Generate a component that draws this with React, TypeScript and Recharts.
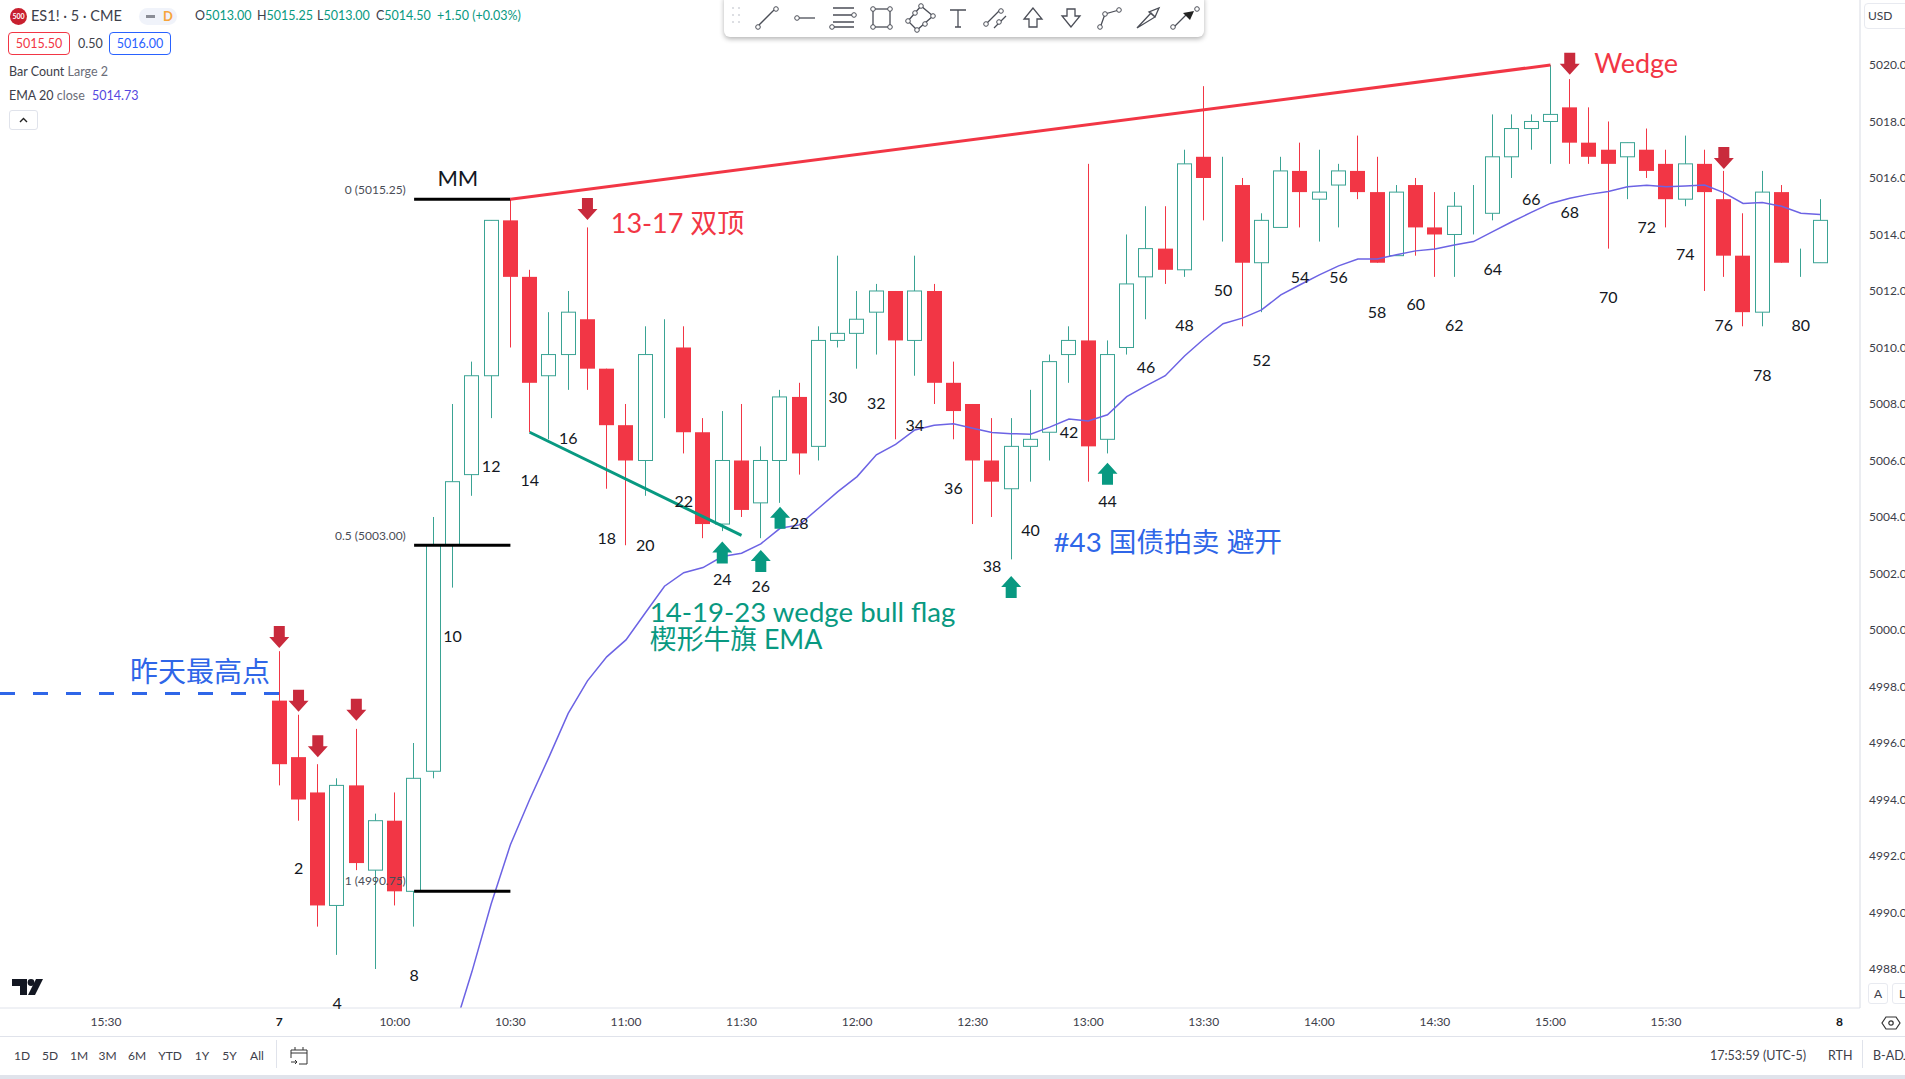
import React from "react";
import { ComposedChart, Bar, Line, XAxis, YAxis, ReferenceLine, ReferenceDot } from "recharts";

const barNumbers: number[] = Array.from({ length: 81 }, (_, i) => i + 1);
const opens = [4997.5,4995.5,4994.25,4990.25,4994.5,4991.5,4993.25,4990.75,4995,5003,5005.5,5009,5014.5,5012.5,5009,5009.75,5011,5009.25,5007.25,5006,5010,5010,5007,5003.75,5006,5004.5,5006,5008.25,5006.5,5010.25,5010.5,5011.25,5012,5010.25,5012,5008.75,5008,5006,5005,5006.5,5007,5009.75,5010.25,5006.75,5010,5012.5,5013.5,5012.75,5016.75,5016,5015.75,5013,5014.25,5016.25,5015.25,5015.75,5016.25,5015.5,5013.25,5015.75,5014.25,5014,5015,5014.75,5016.75,5017.75,5018,5018.5,5017.25,5017,5016.75,5017,5016.5,5015.25,5016.5,5015.25,5013.25,5011.25,5015.5,5013,5013];
const closes = [4995.25,4994,4990.25,4994.5,4991.75,4993.25,4990.75,4994.75,5003,5005.25,5009,5014.5,5012.5,5008.75,5009.75,5011.25,5009.25,5007.25,5006,5009.75,5010,5007,5003.75,5006,5004.25,5006,5008.25,5006.25,5010.25,5010.5,5011,5012,5010.25,5012,5008.75,5007.75,5006,5005.25,5006.5,5006.75,5009.5,5010.25,5006.5,5009.75,5012.25,5013.5,5012.75,5016.5,5016,5016,5013,5014.5,5016.25,5015.5,5015.5,5016.25,5015.5,5013,5015.5,5014.25,5014,5015,5015,5016.75,5017.75,5018,5018.25,5017.25,5016.75,5016.5,5017.25,5016.25,5015.25,5016.5,5015.5,5013.25,5011.25,5015.5,5013,5013,5014.5];
const highs = [4999.25,4997,4995.25,4994.75,4996.5,4993.5,4994.25,4996,5004,5008,5009.5,5014.5,5015.25,5012.75,5011.25,5012,5014.25,5009.25,5008,5010.75,5011,5010.75,5007.5,5007.75,5008,5006.5,5008.5,5008.75,5010.75,5013.25,5012,5012.25,5012,5013.25,5012.25,5009.5,5008,5007.5,5007.5,5008.5,5009.75,5010.75,5016.5,5010.25,5014,5015,5015,5017,5019.25,5016.75,5016,5014.75,5016.75,5017.25,5017,5016.5,5017.5,5016.75,5015.75,5016,5015.5,5015.5,5015.75,5018.25,5018.25,5018.25,5020,5019.5,5018.5,5018,5017.25,5017.75,5017,5017.5,5017,5016.25,5014.75,5016.25,5015.75,5013.5,5015.25];
const lows = [4994.5,4993.25,4989.5,4988.5,4991.5,4988,4990.25,4989.5,4994.75,5001.5,5004.75,5007.5,5010,5007,5006.75,5008.5,5008.5,5005,5003,5004.75,5007.5,5006.25,5003.25,5003.5,5004,5003.25,5004.5,5005.5,5006,5010,5009.25,5009.75,5006.75,5009,5008,5006.75,5003.75,5004,5002.5,5005.25,5006,5008.75,5005.25,5006.25,5009.75,5011,5012.25,5012.5,5014.5,5013.75,5010.75,5011.25,5014.25,5014.25,5013.75,5014.25,5015.25,5013,5013.25,5013.25,5012.5,5012.5,5014,5014.5,5016,5017,5016.5,5016.5,5016.5,5013.5,5015.25,5016,5014.25,5015,5012,5012.5,5010.75,5010.75,5013,5012.5,5013];
const emaBars = [10,11,12,13,14,15,16,17,18,19,20,21,22,23,24,25,26,27,28,29,30,31,32,33,34,35,36,37,38,39,40,41,42,43,44,45,46,47,48,49,50,51,52,53,54,55,56,57,58,59,60,61,62,63,64,65,66,67,68,69,70,71,72,73,74,75,76,77,78,79,80,81];
const emaValues = [4985.7,4987.9,4990.3,4992.4,4994,4995.5,4997.05,4998.2,4999.05,4999.65,5000.6,5001.55,5002.03,5002.21,5002.6,5002.72,5003.05,5003.6,5003.72,5004.31,5004.9,5005.43,5006.2,5006.57,5007.08,5007.25,5007.3,5007.14,5006.99,5006.95,5006.93,5007.18,5007.47,5007.4,5007.62,5008.26,5008.64,5009,5009.7,5010.3,5010.84,5011.04,5011.33,5011.86,5012.22,5012.57,5012.89,5013.13,5013.13,5013.28,5013.42,5013.49,5013.63,5013.75,5014.1,5014.45,5014.78,5015.1,5015.28,5015.42,5015.52,5015.69,5015.74,5015.69,5015.72,5015.75,5015.48,5015.1,5015.13,5015,5014.75,5014.71];

const countBars = [2,4,8,10,12,14,16,18,20,22,24,26,28,30,32,34,36,38,40,42,44,46,48,50,52,54,56,58,60,62,64,66,68,70,72,74,76,78,80];
const countPrices = [4991.58,4986.83,4987.82,4999.82,5005.81,5005.31,5006.8,5003.29,5003.04,5004.57,5001.81,5001.56,5003.79,5008.28,5008.04,5007.29,5005.06,5002.3,5003.54,5007.04,5004.57,5009.31,5010.8,5012.04,5009.56,5012.53,5012.53,5011.29,5011.54,5010.8,5012.78,5015.29,5014.8,5011.79,5014.3,5013.31,5010.8,5009.06,5010.8];

const downArrowBars = [1,2,3,5,17,68,76];
const downArrowPrices = [4999.36,4997.11,4995.5,4996.79,5014.51,5019.65,5016.32];
const upArrowBars = [24,26,27,39,44];
const upArrowPrices = [5003.13,5002.83,5004.36,5001.91,5005.92];

const timeTicks = [-8,1,7,13,19,25,31,37,43,49,55,61,67,73,82];
const timeLabels = ["15:30","7","10:00","10:30","11:00","11:30","12:00","12:30","13:00","13:30","14:00","14:30","15:00","15:30","8"];
const priceTicks = [4988,4990,4992,4994,4996,4998,5000,5002,5004,5006,5008,5010,5012,5014,5016,5018,5020];
const fibLabels = ["0 (5015.25)","0.5 (5003.00)","1 (4990.75)"];
const fibPrices = [5015.25,5003,4990.75];
const fibLabelPrices = [5015.59,5003.36,4991.15];
const periods = ["1D","5D","1M","3M","6M","YTD","1Y","5Y","All"];

const rows = barNumbers.map((n, i) => ({
  n, open: opens[i], close: closes[i], high: highs[i], low: lows[i],
  ema: emaBars.includes(n) ? emaValues[emaBars.indexOf(n)] : undefined,
}));

const UP = "#3aa394", DOWN = "#f23645", TEAL = "#089981", BLUE = "#2962ff", SOFT_BLUE = "#2f66e8", ARROW_RED = "#c92a3c";
const FONT = "Lato, 'Noto Sans', 'Noto Sans CJK SC', sans-serif";
const TXT = "#3d404a";

function Candle(props: any) {
  const { x, y, width, height, payload } = props;
  const { open, close, high, low } = payload;
  const k = height / (high - low);
  const py = (p: number) => y + (high - p) * k;
  const cx = Math.floor(x + width / 2) + 0.5;
  const up = close >= open;
  const c = up ? UP : DOWN;
  const top = py(Math.max(open, close));
  const bot = py(Math.min(open, close));
  const bw = 14;
  return (
    <g>
      <line x1={cx} x2={cx} y1={py(high)} y2={py(low)} stroke={c} strokeWidth={1} />
      {up ? (
        <rect x={cx - bw / 2} y={top} width={bw} height={Math.max(bot - top, 0)} fill="#fff" stroke={c} strokeWidth={1} />
      ) : (
        <rect x={cx - bw / 2 - 0.5} y={top} width={bw + 1} height={bot - top} fill={c} />
      )}
    </g>
  );
}

const downArrow = (p: any) => {
  const { cx, cy } = p;
  return <path d={`M${cx} ${cy}L${cx - 10} ${cy - 11}H${cx - 5.5}V${cy - 22}H${cx + 5.5}V${cy - 11}H${cx + 10}Z`} fill={ARROW_RED} />;
};
const upArrow = (p: any) => {
  const { cx, cy } = p;
  return <path d={`M${cx} ${cy}L${cx - 10} ${cy + 11}H${cx - 5.5}V${cy + 22}H${cx + 5.5}V${cy + 11}H${cx + 10}Z`} fill={TEAL} />;
};
const textAt = (text: string, fill: string, size: number, anchor: string = "start", weight: number = 400) => (p: any) => (
  <text x={p.cx} y={p.cy} fill={fill} fontSize={size} textAnchor={anchor as any} dominantBaseline="central" fontFamily={FONT} fontWeight={weight}>{text}</text>
);

function TimeTick(props: any) {
  const { x, y, payload } = props;
  const label = timeLabels[timeTicks.indexOf(payload.value)];
  const bold = label.length === 1;
  return <text x={x} y={y} textAnchor="middle" dominantBaseline="central" fontSize={12} fontFamily={FONT} fill={bold ? "#131722" : TXT} fontWeight={bold ? 700 : 400}>{label}</text>;
}

const abs = (left: number, top: number, extra: any = {}): any => ({ position: "absolute", left, top, whiteSpace: "nowrap", lineHeight: 1, ...extra });

function Toolbar() {
  const s = { stroke: "#4b4e57", strokeWidth: 1.3, fill: "none" };
  const dot = (x: number, y: number, k: number) => <circle key={k} cx={x} cy={y} r={2.3} fill="#fff" stroke="#4b4e57" strokeWidth={1} />;
  return (
    <div style={abs(724, -6, { width: 480, height: 43, background: "#fff", borderRadius: 6, boxShadow: "0 2px 5px rgba(0,0,0,.3)" })}>
      <svg width={480} height={43} style={{ position: "absolute", left: 0, top: 6, overflow: "visible" }}>
        <g fill="#d5d7dd">{[8, 15, 22].flatMap((y) => [9, 15].map((x) => <circle key={`${x}-${y}`} cx={x} cy={y} r={1.1} />))}</g>
        <path d="M35 25L50 10" {...s} />{dot(34, 27, 1)}{dot(52, 9, 2)}
        <path d="M74 18H91" {...s} />{dot(73, 18, 3)}
        <path d="M109 8H130M109 15H130M109 22H130M109 27H130" {...s} />{dot(130, 15, 4)}{dot(108, 27, 5)}
        <rect x={149} y={9} width={17} height={18} {...s} />{dot(149, 9, 6)}{dot(166, 9, 7)}{dot(149, 27, 8)}{dot(166, 27, 9)}
        <path d="M184 21L197 6L209 16L193 30Z" {...s} />{dot(184, 21, 10)}{dot(197, 6, 11)}{dot(209, 16, 12)}{dot(193, 30, 13)}{dot(191, 13, 14)}{dot(201, 24, 15)}
        <path d="M226 10H242M234 10V27M231 27H237" {...s} />
        <path d="M263 23L276 10M270 28L282 16" {...s} />{dot(262, 24, 16)}{dot(277, 11, 17)}{dot(275, 22, 18)}
        <path d="M309 8L300 19H305V27H313V19H318Z" {...s} />
        <path d="M347 27L338 16H343V9H351V16H356Z" {...s} />
        <path d="M376 28L381 14L395 10" {...s} />{dot(376, 27, 19)}{dot(381, 14, 20)}{dot(395, 10, 21)}
        <path d="M413 28L431 17L427 13L413 28M431 17L435 8L425 12Z" {...s} />
        <path d="M450 27L462 15" {...s} />{dot(449, 27, 22)}{dot(473, 9, 23)}<path d="M470 11L459 13L466 20Z" fill="#222" />
      </svg>
    </div>
  );
}

function Chrome() {
  const ohlc = [[195, "O", "5013.00"], [257, "H", "5015.25"], [317, "L", "5013.00"], [376, "C", "5014.50"]];
  const periodX = [22, 50, 79, 107.6, 137, 170, 202, 229.5, 257];
  return (
    <div style={{ position: "absolute", left: 0, top: 0, width: 1905, height: 1079, fontFamily: FONT, color: TXT, pointerEvents: "none", overflow: "hidden" }}>
      {/* legend */}
      <div style={abs(10, 8, { width: 17, height: 17, borderRadius: 9, background: "#c8202f", color: "#fff", fontSize: 7, fontWeight: 700, textAlign: "center", lineHeight: "17px" })}>500</div>
      <div style={abs(31, 9, { fontSize: 14.5 })}>ES1! · 5 · CME</div>
      <div style={abs(139, 8, { width: 38, height: 17, background: "#f0f3fa", borderRadius: 9 })} />
      <div style={abs(146, 15, { width: 9, height: 3, background: "#8a8d96" })} />
      <div style={abs(163, 10, { fontSize: 13, color: "#f7a43a", fontWeight: 700 })}>D</div>
      {ohlc.map(([x, a, b]) => (
        <div key={a as string} style={abs(x as number, 10, { fontSize: 12.5 })}>{a}<span style={{ color: TEAL }}>{b}</span></div>
      ))}
      <div style={abs(437, 10, { fontSize: 12.5, color: TEAL })}>+1.50 (+0.03%)</div>
      <div style={abs(8, 32, { width: 62, height: 23, border: "1px solid #f23645", borderRadius: 4, boxSizing: "border-box", color: "#f23645", fontSize: 12.5, textAlign: "center", lineHeight: "21px" })}>5015.50</div>
      <div style={abs(78, 38, { fontSize: 12.5 })}>0.50</div>
      <div style={abs(109, 32, { width: 62, height: 23, border: "1px solid #2962ff", borderRadius: 4, boxSizing: "border-box", color: "#2962ff", fontSize: 12.5, textAlign: "center", lineHeight: "21px" })}>5016.00</div>
      <div style={abs(9, 66, { fontSize: 12.5 })}>Bar Count <span style={{ color: "#6a6d78" }}>Large 2</span></div>
      <div style={abs(9, 90, { fontSize: 12.5 })}>EMA 20 <span style={{ color: "#6a6d78" }}>close</span></div>
      <div style={abs(92, 90, { fontSize: 12.5, color: "#5447e0" })}>5014.73</div>
      <div style={abs(9, 110, { width: 29, height: 20, border: "1px solid #e0e3eb", borderRadius: 3, boxSizing: "border-box" })}>
        <svg width={27} height={18}><path d="M10 11L13.5 7.5L17 11" stroke="#222" strokeWidth={1.4} fill="none" /></svg>
      </div>
      <Toolbar />
      {/* logo */}
      <svg width={50} height={24} style={abs(8, 975)}>
        <path d="M4 4H19V20H12V11H4Z" fill="#131722" /><circle cx={23} cy={7.5} r={3.4} fill="#131722" />
        <path d="M28 4H35L27 20H20Z" fill="#131722" />
      </svg>
      {/* price axis corner */}
      <div style={abs(1864, 3, { width: 50, height: 26, border: "1px solid #e8eaf0", borderRadius: 4, boxSizing: "border-box" })} />
      <div style={abs(1868, 10, { fontSize: 12 })}>USD</div>
      <div style={abs(1868, 983, { width: 20, height: 21, border: "1px solid #e8eaf0", borderRadius: 3, boxSizing: "border-box", fontSize: 12, textAlign: "center", lineHeight: "19px" })}>A</div>
      <div style={abs(1892, 983, { width: 20, height: 21, border: "1px solid #e8eaf0", borderRadius: 3, boxSizing: "border-box", fontSize: 12, textAlign: "center", lineHeight: "19px" })}>L</div>
      <svg width={20} height={20} style={abs(1881, 1013)}><path d="M5 4H15L19 10L15 16H5L1 10Z" fill="none" stroke="#333" strokeWidth={1.2} /><circle cx={10} cy={10} r={2.2} fill="none" stroke="#333" strokeWidth={1.2} /></svg>
      {/* bottom bar */}
      <div style={abs(0, 1036, { width: 1905, height: 1, background: "#e0e3eb" })} />
      <div style={abs(0, 1075, { width: 1905, height: 4, background: "#e0e3eb" })} />
      {periods.map((p, i) => (
        <div key={p} style={abs(periodX[i] - 20, 1050, { width: 40, textAlign: "center", fontSize: 12 })}>{p}</div>
      ))}
      <div style={abs(276, 1040, { width: 1, height: 28, background: "#e0e3eb" })} />
      <svg width={20} height={20} style={abs(290, 1046)}>
        <path d="M1 12V4H17V18H9M1 7H17M5 1V4M13 1V4M1 16H7M5 14L7 16L5 18" fill="none" stroke="#333" strokeWidth={1} />
      </svg>
      <div style={abs(1710, 1050, { fontSize: 12.5 })}>17:53:59 (UTC-5)</div>
      <div style={abs(1828, 1050, { fontSize: 12.5 })}>RTH</div>
      <div style={abs(1862, 1040, { width: 1, height: 28, background: "#e0e3eb" })} />
      <div style={abs(1873, 1050, { fontSize: 12.5 })}>B-ADJ</div>
    </div>
  );
}

export default function App() {
  return (
    <div style={{ position: "absolute", left: 0, top: 0, width: 1905, height: 1079, background: "#fff", overflow: "hidden" }}>
      <ComposedChart width={1905} height={1079} data={rows} margin={{ top: 0, right: 0, bottom: 43, left: 0 }}>
        <XAxis dataKey="n" type="number" domain={[-13.5, 83.07]} ticks={timeTicks} allowDataOverflow interval={0}
          height={28} tick={<TimeTick />} tickLine={false} axisLine={{ stroke: "#e0e3eb" }} tickMargin={7} />
        <YAxis orientation="right" type="number" domain={[4986.62, 5022.3]} ticks={priceTicks} allowDataOverflow interval={0}
          width={45} tickLine={false} axisLine={{ stroke: "#d8dbe3" }} tickFormatter={(v: number) => v.toFixed(2)}
          tick={{ fontSize: 12, fill: TXT, fontFamily: FONT, textAnchor: "start", dx: 0 }} tickMargin={3} />
        <Line dataKey="ema" stroke="#6c63e4" strokeWidth={1.5} dot={false} connectNulls isAnimationActive={false} activeDot={false} />
        <ReferenceLine segment={[{ x: -13.5, y: 4997.75 }, { x: 1, y: 4997.75 }]} stroke={SOFT_BLUE} strokeWidth={3} strokeDasharray="15 18" />
        {fibPrices.map((p) => (
          <ReferenceLine key={p} segment={[{ x: 8, y: p }, { x: 13, y: p }]} stroke="#000" strokeWidth={3} />
        ))}
        {fibLabels.map((t, i) => (
          <ReferenceDot key={t} x={7.57} y={fibLabelPrices[i]} shape={textAt(t, "#4a4d57", 12, "end")} />
        ))}
        <ReferenceLine segment={[{ x: 14, y: 5007 }, { x: 25, y: 5003.35 }]} stroke={TEAL} strokeWidth={3} />
        <ReferenceLine segment={[{ x: 13, y: 5015.25 }, { x: 67, y: 5020 }]} stroke={DOWN} strokeWidth={3} />
        <Bar dataKey={(d: any) => [d.low, d.high]} barSize={15} shape={<Candle />} isAnimationActive={false} activeBar={false} />
        {downArrowBars.map((n, i) => (
          <ReferenceDot key={`d${n}`} x={n} y={downArrowPrices[i]} shape={downArrow} />
        ))}
        {upArrowBars.map((n, i) => (
          <ReferenceDot key={`u${n}`} x={n} y={upArrowPrices[i]} shape={upArrow} />
        ))}
        {countBars.map((n, i) => (
          <ReferenceDot key={`c${n}`} x={n} y={countPrices[i]} shape={textAt(String(n), "#131722", 16, "middle")} />
        ))}
        <ReferenceDot x={10.27} y={5016.03} shape={textAt("MM", "#131722", 22, "middle")} />
        <ReferenceDot x={18.21} y={5014.44} shape={textAt("13-17 双顶", DOWN, 27)} />
        <ReferenceDot x={69.27} y={5020.08} shape={textAt("Wedge", DOWN, 27)} />
        <ReferenceDot x={-6.75} y={4998.55} shape={textAt("昨天最高点", SOFT_BLUE, 28)} />
        <ReferenceDot x={20.24} y={5000.67} shape={textAt("14-19-23 wedge bull flag", TEAL, 27.6)} />
        <ReferenceDot x={20.24} y={4999.68} shape={textAt("楔形牛旗 EMA", TEAL, 26.8)} />
        <ReferenceDot x={41.2} y={5003.15} shape={textAt("#43 国债拍卖 避开", SOFT_BLUE, 27.7)} />
      </ComposedChart>
      <Chrome />
    </div>
  );
}
